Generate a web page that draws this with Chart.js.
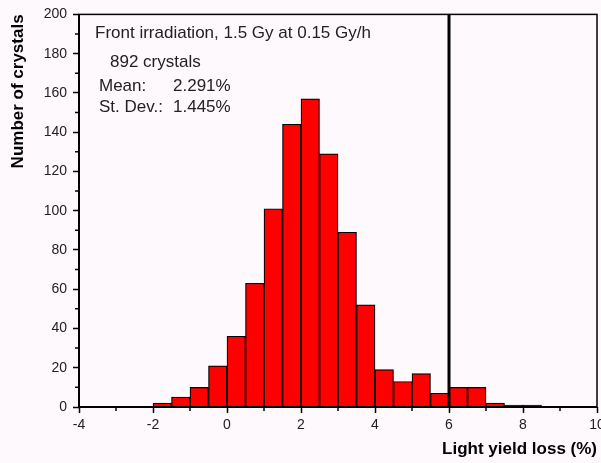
<!DOCTYPE html>
<html>
<head>
<meta charset="utf-8">
<script src="https://cdn.jsdelivr.net/npm/chart.js@4/dist/chart.umd.min.js"></script>
<style>
  html, body { margin: 0; padding: 0; background: #fdf9fd; }
  #wrap { width: 601px; height: 463px; }
</style>
</head>
<body>
<div id="wrap"><canvas id="hist"></canvas></div>
<script>
// bin centres (0.5 wide bins from -2 to 8.5) and counts
const binCenters = [-1.75, -1.25, -0.75, -0.25, 0.25, 0.75, 1.25, 1.75, 2.25, 2.75, 3.25,
                    3.75, 4.25, 4.75, 5.25, 5.75, 6.25, 6.75, 7.25, 7.75, 8.25];
const counts = [2, 5, 10, 21, 36, 63, 101, 144, 157, 129, 89,
                52, 19, 13, 17, 7, 10, 10, 2, 1, 1];
const xTicks = [-4, -2, 0, 2, 4, 6, 8, 10];
const yTicks = [0, 20, 40, 60, 80, 100, 120, 140, 160, 180, 200];
const cutValue = 6;
const infoLines = [
    { text: 'Front irradiation, 1.5 Gy at 0.15 Gy/h', x: 95, y: 33 },
    { text: '892 crystals', x: 110, y: 62 },
    { text: 'Mean:', x: 99, y: 86 },
    { text: '2.291%', x: 173, y: 86 },
    { text: 'St. Dev.:', x: 99, y: 107 },
    { text: '1.445%', x: 173, y: 107 }
];

const labelFont = { family: 'Liberation Sans, Arial, sans-serif', size: 14 };
const titleFont = { family: 'Liberation Sans, Arial, sans-serif', size: 17, weight: 'bold' };

// frame, minor ticks, cut line and the info text
const decorPlugin = {
    id: 'decor',
    beforeDraw(chart) {
        const ctx = chart.ctx;
        ctx.save();
        ctx.fillStyle = '#fdf9fd';
        ctx.fillRect(0, 0, chart.width, chart.height);
        ctx.restore();
    },
    afterDraw(chart) {
        const ctx = chart.ctx;
        const a = chart.chartArea;
        const xs = chart.scales.x, ys = chart.scales.y;
        ctx.save();
        ctx.strokeStyle = '#000';

        // minor ticks
        ctx.lineWidth = 1.5;
        ctx.beginPath();
        for (let i = 0; i < xTicks.length - 1; i++) {
            const px = xs.getPixelForValue((xTicks[i] + xTicks[i + 1]) / 2);
            ctx.moveTo(px, a.bottom);
            ctx.lineTo(px, a.bottom + 4);
        }
        for (let i = 0; i < yTicks.length - 1; i++) {
            const py = ys.getPixelForValue((yTicks[i] + yTicks[i + 1]) / 2);
            ctx.moveTo(a.left, py);
            ctx.lineTo(a.left - 4, py);
        }
        ctx.stroke();

        // cut line
        const cx = xs.getPixelForValue(cutValue);
        ctx.lineWidth = 3;
        ctx.beginPath();
        ctx.moveTo(cx, a.top);
        ctx.lineTo(cx, a.bottom);
        ctx.stroke();

        // frame
        ctx.lineWidth = 1.5;
        ctx.strokeRect(a.left, a.top, a.right - a.left, a.bottom - a.top);
        ctx.lineWidth = 2;
        ctx.beginPath();
        ctx.moveTo(a.left, a.top);
        ctx.lineTo(a.left, a.bottom);
        ctx.lineTo(a.right, a.bottom);
        ctx.stroke();

        // info text
        ctx.fillStyle = '#222';
        ctx.font = '17px Liberation Sans, Arial, sans-serif';
        ctx.textBaseline = 'middle';
        infoLines.forEach(l => ctx.fillText(l.text, l.x, l.y));
        ctx.restore();
    }
};

new Chart(document.getElementById('hist'), {
    type: 'bar',
    data: {
        datasets: [{
            data: binCenters.map((c, i) => ({ x: c, y: counts[i] })),
            backgroundColor: '#ff0000',
            borderColor: '#000',
            borderWidth: 1.2,
            barPercentage: 1,
            categoryPercentage: 1
        }]
    },
    options: {
        responsive: true,
        maintainAspectRatio: false,
        animation: false,
        layout: { padding: { top: 11, right: 4, left: 0, bottom: 0 } },
        plugins: { legend: { display: false }, tooltip: { enabled: false } },
        scales: {
            x: {
                type: 'linear',
                offset: false,
                min: xTicks[0],
                max: xTicks[xTicks.length - 1],
                afterBuildTicks: s => { s.ticks = xTicks.map(v => ({ value: v })); },
                afterFit: s => { s.height = 56; s.paddingLeft = 0; s.paddingRight = 0; },
                grid: { offset: false, drawOnChartArea: false, tickLength: 6, tickWidth: 1.5, tickColor: '#000' },
                border: { display: false },
                ticks: { font: labelFont, color: '#222', padding: 4, maxRotation: 0 },
                title: {
                    display: true, text: 'Light yield loss (%)', align: 'end',
                    font: titleFont, color: '#000', padding: { top: 0, bottom: 3 }
                }
            },
            y: {
                min: yTicks[0],
                max: yTicks[yTicks.length - 1],
                afterBuildTicks: s => { s.ticks = yTicks.map(v => ({ value: v })); },
                afterFit: s => { s.width = 79; },
                grid: { drawOnChartArea: false, tickLength: 6, tickWidth: 1.5, tickColor: '#000' },
                border: { display: false },
                ticks: { font: labelFont, color: '#222', padding: 6 },
                title: {
                    display: true, text: 'Number of crystals', align: 'end',
                    font: titleFont, color: '#000', padding: { top: 8, bottom: 0 }
                }
            }
        }
    },
    plugins: [decorPlugin]
});
</script>
</body>
</html>
